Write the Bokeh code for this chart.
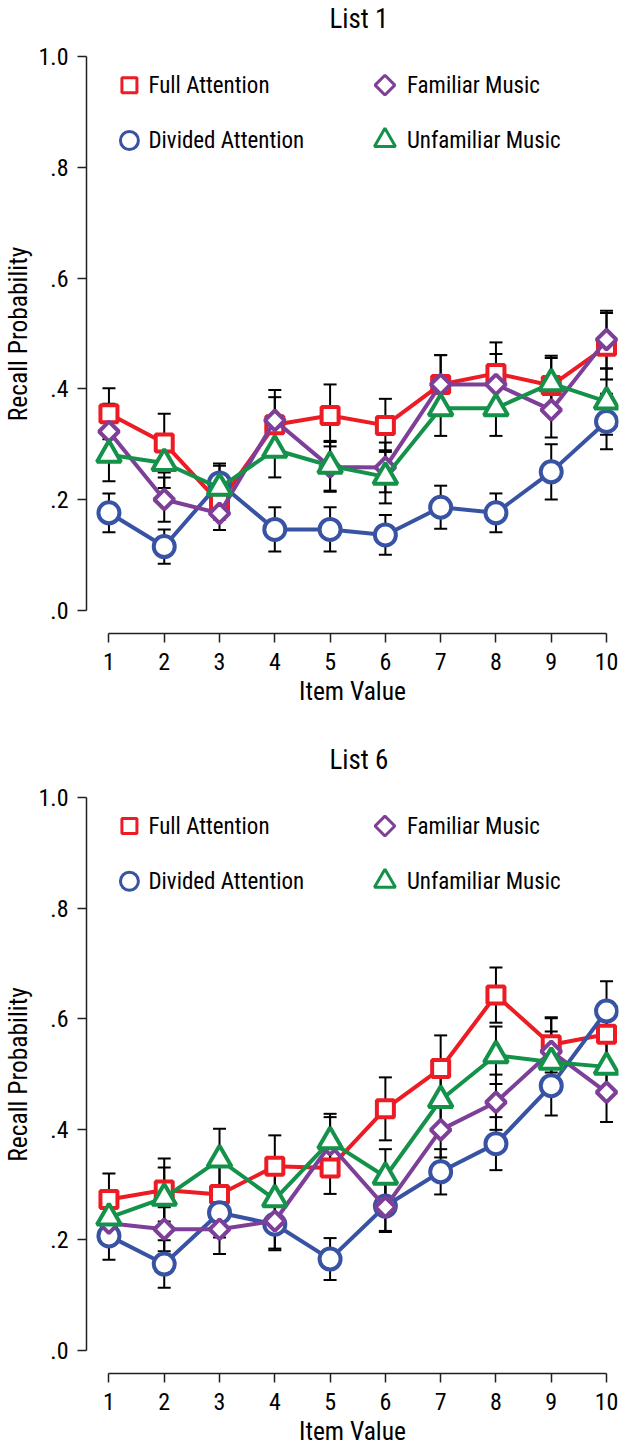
import numpy as np
from bokeh.plotting import figure
from bokeh.models import ColumnDataSource, Whisker, TeeHead, FixedTicker, Range1d
from bokeh.layouts import column
from bokeh.embed import file_html
from bokeh.resources import INLINE
from bokeh.core.properties import value

# ---------------- data ----------------
item_values = [1, 2, 3, 4, 5, 6, 7, 8, 9, 10]
y_ticks = [0.0, 0.2, 0.4, 0.6, 0.8, 1.0]
y_tick_labels = [".0", ".2", ".4", ".6", ".8", "1.0"]
series_names = ["Full Attention", "Divided Attention", "Familiar Music", "Unfamiliar Music"]

# List 1
full_1 = [0.355, 0.302, 0.194, 0.335, 0.352, 0.334, 0.408, 0.428, 0.406, 0.477]
divided_1 = [0.176, 0.115, 0.230, 0.146, 0.146, 0.136, 0.186, 0.176, 0.250, 0.341]
familiar_1 = [0.323, 0.200, 0.175, 0.343, 0.259, 0.258, 0.408, 0.408, 0.362, 0.489]
unfamiliar_1 = [0.281, 0.266, 0.221, 0.290, 0.261, 0.241, 0.365, 0.365, 0.410, 0.377]
full_1_err = [0.046, 0.053, 0.030, 0.050, 0.056, 0.048, 0.053, 0.056, 0.050, 0.060]
divided_1_err = [0.035, 0.031, 0.035, 0.040, 0.040, 0.036, 0.039, 0.035, 0.050, 0.050]
familiar_1_err = [0.050, 0.040, 0.030, 0.055, 0.045, 0.045, 0.053, 0.055, 0.050, 0.052]
unfamiliar_1_err = [0.048, 0.045, 0.040, 0.050, 0.045, 0.048, 0.050, 0.050, 0.050, 0.060]

# List 6
full_6 = [0.273, 0.290, 0.282, 0.333, 0.330, 0.437, 0.510, 0.643, 0.553, 0.572]
divided_6 = [0.207, 0.156, 0.249, 0.228, 0.165, 0.261, 0.323, 0.374, 0.479, 0.614]
familiar_6 = [0.230, 0.219, 0.219, 0.234, 0.372, 0.259, 0.399, 0.449, 0.541, 0.467]
unfamiliar_6 = [0.240, 0.276, 0.345, 0.273, 0.378, 0.314, 0.453, 0.534, 0.522, 0.513]
full_6_err = [0.047, 0.057, 0.050, 0.056, 0.047, 0.057, 0.060, 0.050, 0.050, 0.050]
divided_6_err = [0.043, 0.043, 0.045, 0.047, 0.038, 0.045, 0.041, 0.048, 0.054, 0.054]
familiar_6_err = [0.040, 0.040, 0.045, 0.050, 0.050, 0.045, 0.050, 0.050, 0.060, 0.054]
unfamiliar_6_err = [0.045, 0.055, 0.056, 0.050, 0.050, 0.050, 0.053, 0.052, 0.055, 0.055]

# ---------------- style ----------------
FONT = "Roboto Condensed"
AXIS_COLOR = "#231f20"
colors = ["#ed1c24", "#3953a4", "#7d3f98", "#14924a"]
markers = ["square", "circle", "square", "triangle"]
sizes = [17, 21, 14, 24]
key_sizes = [15, 18, 14, 21]
angles = [0.0, 0.0, np.pi / 4, 0.0]

PX_PER_UNIT = 555.0
TOP = 32
X_RANGE = (0.594, 10.2166)
Y_RANGE = (-23.4 / PX_PER_UNIT, 1.0 + (54.5 - TOP) / PX_PER_UNIT)
FRAME_W = 533.0
PX_X = FRAME_W / (X_RANGE[1] - X_RANGE[0])

# legend layout (pixels from frame left / below the 1.0 line)
key_col_px = [43, 43, 299, 299]
lab_col_px = [62, 62, 321, 321]
row_px = [28.3, 83.8, 28.3, 83.8]


def make_fig(title, vals, errs, height, bottom):
    p = figure(width=626, height=height, output_backend="svg", toolbar_location=None,
               x_range=Range1d(*X_RANGE), y_range=Range1d(*Y_RANGE),
               min_border_left=85, min_border_right=8, min_border_top=TOP,
               min_border_bottom=bottom)
    p.outline_line_color = None
    p.grid.visible = False
    p.background_fill_color = "white"
    p.border_fill_color = "white"

    p.title.text = title
    p.title.align = "left"
    p.title.offset = 243
    p.title.text_font = FONT
    p.title.text_font_size = "27px"
    p.title.text_font_style = "normal"
    p.title.text_color = "black"
    p.title.standoff = 0

    for ax in (p.xaxis[0], p.yaxis[0]):
        ax.axis_line_color = AXIS_COLOR
        ax.axis_line_width = 1.5
        ax.major_tick_line_color = AXIS_COLOR
        ax.major_tick_line_width = 1.5
        ax.major_tick_out = 9
        ax.major_tick_in = 0
        ax.minor_tick_line_color = None
        ax.major_label_text_font = FONT
        ax.major_label_text_font_size = "24px"
        ax.major_label_text_color = "black"
        ax.axis_label_text_font = FONT
        ax.axis_label_text_font_size = "25.5px"
        ax.axis_label_text_font_style = "normal"
        ax.axis_label_text_color = "black"

    xa = p.xaxis[0]
    xa.ticker = FixedTicker(ticks=item_values)
    xa.bounds = (item_values[0], item_values[-1])
    xa.axis_label = "Item Value"
    xa.major_label_standoff = 10
    xa.axis_label_standoff = 3

    ya = p.yaxis[0]
    ya.ticker = FixedTicker(ticks=y_ticks)
    ya.bounds = (y_ticks[0], y_ticks[-1])
    ya.major_label_overrides = {t: s for t, s in zip(y_ticks, y_tick_labels)}
    ya.axis_label = "Recall Probability"
    ya.major_label_standoff = 9
    ya.axis_label_standoff = 2

    sources = []
    for i in range(4):
        v = np.array(vals[i])
        e = np.array(errs[i])
        src = ColumnDataSource(dict(x=item_values, y=list(v), upper=list(v + e), lower=list(v - e)))
        sources.append(src)
        p.line("x", "y", source=src, line_color=colors[i], line_width=4)
        p.scatter("x", "y", source=src, marker=markers[i], size=sizes[i], angle=angles[i],
                  fill_color="white", line_color=colors[i], line_width=4)

    for src in sources:
        w = Whisker(base="x", upper="upper", lower="lower", source=src,
                    line_color="black", line_width=2,
                    upper_head=TeeHead(size=13, line_width=2, line_color="black"),
                    lower_head=TeeHead(size=13, line_width=2, line_color="black"))
        p.add_layout(w)

    # legend (keys + labels) in the empty upper area of the frame
    for i in range(4):
        kx = X_RANGE[0] + key_col_px[i] / PX_X
        ky = 1.0 - row_px[i] / PX_PER_UNIT
        p.scatter(x=[kx], y=[ky], marker=markers[i], size=key_sizes[i], angle=angles[i],
                  fill_color="white", line_color=colors[i], line_width=3)
    lab_src = ColumnDataSource(dict(
        x=[X_RANGE[0] + c / PX_X for c in lab_col_px],
        y=[1.0 - r / PX_PER_UNIT for r in row_px],
        text=series_names))
    p.text("x", "y", text="text", source=lab_src, text_font=value(FONT),
           text_font_size="23px", text_align="left", text_baseline="middle",
           text_color="black")
    return p


p1 = make_fig("List 1", [full_1, divided_1, familiar_1, unfamiliar_1],
              [full_1_err, divided_1_err, familiar_1_err, unfamiliar_1_err],
              height=741, bottom=108)
p2 = make_fig("List 6", [full_6, divided_6, familiar_6, unfamiliar_6],
              [full_6_err, divided_6_err, familiar_6_err, unfamiliar_6_err],
              height=707, bottom=0)

layout = column(p1, p2)
open("out.html", "w").write(file_html(layout, INLINE))
